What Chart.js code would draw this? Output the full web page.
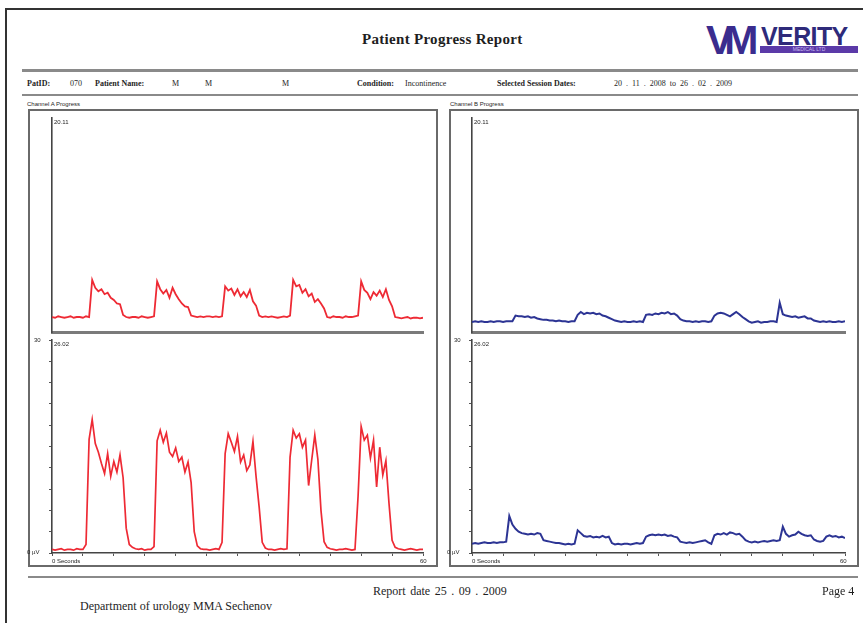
<!DOCTYPE html>
<html><head><meta charset="utf-8">
<script src="https://cdn.jsdelivr.net/npm/chart.js@4.4.0/dist/chart.umd.min.js"></script>
<style>
html,body{margin:0;padding:0;background:#fff;}
body{width:863px;height:623px;position:relative;overflow:hidden;font-family:"Liberation Serif","DejaVu Serif",serif;color:#1e1e1e;}
.a{position:absolute;white-space:nowrap;line-height:1;}
.b{font-weight:bold;}
.rule{position:absolute;background:#8a8a8a;}
.box{position:absolute;border:2px solid #6a6a6a;box-sizing:border-box;}
canvas{position:absolute;}
.sm{font-size:6px;font-family:"Liberation Sans",Arial,sans-serif;}
</style></head><body>
<div style="position:absolute;left:5px;top:8px;width:870px;height:630px;border-left:2px solid #333;border-top:2px solid #333;"></div>

<div class="a b" style="left:362px;top:32px;font-size:15px;letter-spacing:0.3px;">Patient Progress Report</div>

<!-- logo -->
<div class="a" style="left:706px;top:20px;font-family:'Liberation Sans',Arial,sans-serif;font-weight:900;font-size:41px;color:#3a2c8e;letter-spacing:-9px;">VM</div>
<div class="a" style="left:761px;top:24px;font-family:'Liberation Sans',Arial,sans-serif;font-weight:bold;font-size:25px;color:#2e2a7a;letter-spacing:-0.6px;">VERITY</div>
<div class="a" style="left:760px;top:46px;width:98px;height:7px;background:#5b3aa8;color:#c9b8f0;font-size:5px;font-family:'Liberation Sans',Arial,sans-serif;text-align:center;line-height:7px;">MEDICAL LTD</div>

<div class="rule" style="left:22px;top:69px;width:836px;height:3px;"></div>
<div class="a b" style="left:27px;top:80px;font-size:8px;">PatID:</div>
<div class="a" style="left:70px;top:80px;font-size:8px;">070</div>
<div class="a b" style="left:95px;top:80px;font-size:8px;">Patient Name:</div>
<div class="a" style="left:172px;top:80px;font-size:8px;">M</div>
<div class="a" style="left:205px;top:80px;font-size:8px;">M</div>
<div class="a" style="left:282px;top:80px;font-size:8px;">M</div>
<div class="a b" style="left:357px;top:80px;font-size:8px;">Condition:</div>
<div class="a" style="left:405px;top:80px;font-size:8px;">Incontinence</div>
<div class="a b" style="left:497px;top:80px;font-size:8px;">Selected Session Dates:</div>
<div class="a" style="left:614px;top:80px;font-size:8px;word-spacing:2px;color:#1e1e1e;">20 . 11 . 2008 to 26 . 02 . 2009</div>
<div class="rule" style="left:22px;top:94px;width:836px;height:2px;"></div>

<div class="a sm" style="left:27px;top:101px;">Channel A Progress</div>
<div class="a sm" style="left:450px;top:101px;">Channel B Progress</div>
<div class="box" style="left:28px;top:109px;width:410px;height:458px;"></div>
<div class="box" style="left:449px;top:109px;width:410px;height:458px;"></div>

<canvas id="cA1" width="383" height="226" style="left:46px;top:112px;"></canvas>
<canvas id="cA2" width="383" height="225" style="left:46px;top:334px;"></canvas>
<canvas id="cB1" width="385" height="226" style="left:466px;top:112px;"></canvas>
<canvas id="cB2" width="385" height="225" style="left:466px;top:334px;"></canvas>

<div id="labels"></div>

<div class="rule" style="left:28px;top:576px;width:830px;height:2px;"></div>
<div class="a" style="left:373px;top:585px;font-size:12px;word-spacing:1.5px;">Report date 25 . 09 . 2009</div>
<div class="a" style="left:822px;top:585px;font-size:12px;">Page 4</div>
<div class="a" style="left:80px;top:600px;font-size:12px;">Department of urology MMA Sechenov</div>

<script>
// ---- data ----
const seconds = [0,0.5,1,1.5,2,2.5,3,3.5,4,4.5,5,5.5,6,6.5,7,7.5,8,8.5,9,9.5,10,10.5,11,11.5,12,12.5,13,13.5,14,14.5,15,15.5,16,16.5,17,17.5,18,18.5,19,19.5,20,20.5,21,21.5,22,22.5,23,23.5,24,24.5,25,25.5,26,26.5,27,27.5,28,28.5,29,29.5,30,30.5,31,31.5,32,32.5,33,33.5,34,34.5,35,35.5,36,36.5,37,37.5,38,38.5,39,39.5,40,40.5,41,41.5,42,42.5,43,43.5,44,44.5,45,45.5,46,46.5,47,47.5,48,48.5,49,49.5,50,50.5,51,51.5,52,52.5,53,53.5,54,54.5,55,55.5,56,56.5,57,57.5,58,58.5,59,59.5,60];

// Channel A, session 20.11 (µV)
const channelA_2011 = [2.1,2.0,2.2,2.1,2.0,2.1,2.2,2.0,2.1,2.1,2.0,2.2,2.1,7.3,6.2,5.7,6.0,5.3,5.5,4.8,4.5,4.0,3.9,2.4,2.1,2.0,2.1,2.1,2.0,2.2,2.1,2.0,2.1,2.2,7.1,6.0,5.4,5.9,4.8,6.2,5.3,4.6,4.0,3.6,3.5,2.3,2.2,2.1,2.2,2.1,2.2,2.2,2.1,2.2,2.1,2.2,6.4,5.8,6.1,5.2,6.0,5.0,5.6,4.9,5.9,4.3,3.7,2.3,2.1,2.2,2.1,2.2,2.1,2.0,2.1,2.2,2.1,2.3,7.3,6.4,6.6,5.5,6.0,5.0,5.4,4.2,4.6,4.0,3.3,2.1,2.0,2.2,2.1,2.1,2.0,2.2,2.1,2.1,2.2,2.3,7.1,5.9,5.5,4.6,5.6,5.1,5.8,4.9,6.0,4.5,3.6,2.1,2.0,1.9,2.0,2.1,1.9,2.0,2.0,1.9,2.0];

// Channel A, session 26.02 (µV)
const channelA_2602 = [0.5,0.4,0.5,0.6,0.4,0.5,0.5,0.4,0.6,0.5,0.5,1.2,16.0,18.8,15.4,14.2,12.6,11.2,14.0,10.8,12.9,11.4,13.8,10.6,3.5,1.2,0.8,0.6,0.5,0.6,0.4,0.5,0.5,0.9,15.8,17.3,15.6,16.9,14.2,13.6,14.8,12.9,13.5,11.4,12.8,9.9,3.0,1.0,0.6,0.5,0.5,0.4,0.5,0.6,0.5,1.5,14.0,16.8,15.6,14.3,16.4,12.8,13.8,11.6,12.4,15.7,10.8,6.5,1.5,0.7,0.5,0.5,0.4,0.5,0.6,0.5,0.6,13.5,17.3,16.2,16.8,14.9,15.9,9.5,13.1,16.6,13.2,6.0,1.6,0.8,0.6,0.5,0.4,0.5,0.5,0.6,0.5,0.4,0.5,8.0,17.8,15.9,16.6,13.4,15.9,9.3,14.9,11.0,13.0,7.0,1.8,0.8,0.6,0.5,0.4,0.5,0.6,0.5,0.4,0.5,0.5];

// Channel B, session 20.11 (µV)
const channelB_2011 = [1.4,1.5,1.4,1.5,1.4,1.4,1.5,1.4,1.5,1.5,1.4,1.5,1.5,1.5,2.3,2.2,2.2,2.1,2.2,2.0,2.1,1.9,1.8,1.7,1.7,1.6,1.6,1.5,1.6,1.5,1.5,1.4,1.5,1.5,2.4,2.8,2.5,2.7,2.6,2.7,2.5,2.6,2.3,2.2,2.0,1.8,1.6,1.5,1.4,1.5,1.4,1.4,1.5,1.4,1.5,1.4,2.4,2.5,2.4,2.6,2.5,2.7,2.6,2.8,2.5,2.6,2.3,1.8,1.6,1.5,1.5,1.4,1.5,1.4,1.5,1.5,1.4,1.5,2.3,2.6,2.7,2.6,2.4,2.2,2.5,2.8,2.5,2.1,1.8,1.5,1.3,1.4,1.5,1.3,1.4,1.4,1.5,1.5,1.4,4.1,2.5,2.3,2.2,2.1,2.2,2.0,2.1,2.2,1.9,1.9,1.6,1.5,1.4,1.5,1.4,1.5,1.4,1.4,1.5,1.4,1.5];

// Channel B, session 26.02 (µV)
const channelB_2602 = [1.3,1.4,1.3,1.4,1.5,1.4,1.4,1.5,1.4,1.5,1.5,1.6,5.2,4.0,3.4,3.0,2.8,2.7,2.6,2.7,2.6,2.8,2.7,1.8,1.7,1.6,1.5,1.4,1.4,1.3,1.2,1.3,1.2,1.3,3.2,2.8,2.4,2.3,2.4,2.2,2.3,2.2,2.4,2.2,2.3,1.4,1.2,1.3,1.2,1.3,1.3,1.2,1.3,1.4,1.3,1.4,2.3,2.5,2.6,2.5,2.6,2.5,2.6,2.4,2.5,2.3,2.2,1.6,1.5,1.4,1.5,1.4,1.5,1.6,1.7,1.8,1.5,1.3,2.5,2.7,2.6,2.8,2.6,2.9,2.8,2.6,2.7,2.3,1.8,1.6,1.5,1.6,1.5,1.6,1.7,1.6,1.7,1.8,1.7,1.8,3.7,2.7,2.3,2.5,2.6,3.0,2.7,2.5,2.4,2.5,1.9,1.7,1.6,1.7,2.3,2.5,2.3,2.4,2.2,2.3,2.1];

const sessionLabels = ['20.11','26.02'];
const yTickLabels = ['0 µV','30'];
const xTickLabels = ['0 Seconds','60'];
const yRange = [0, 30];
const xRange = [0, 60];

// ---- charts ----
const RED = '#ee2a34';
const BLUE = '#2c3494';
const P = 6;

function makeChart(id, values, color, lower, width) {
  const pts = seconds.map((s, i) => ({x: s, y: values[i]}));
  return new Chart(document.getElementById(id), {
    type: 'line',
    data: { datasets: [{ data: pts, borderColor: color, borderWidth: width, pointRadius: 0, tension: 0, fill: false }] },
    options: {
      responsive: false, animation: false, events: [],
      layout: { padding: P },
      plugins: { legend: { display: false }, tooltip: { enabled: false } },
      scales: {
        x: {
          type: 'linear', min: xRange[0], max: xRange[1],
          ticks: { display: false, stepSize: 5 },
          grid: { display: lower, drawOnChartArea: false, drawTicks: lower, tickLength: 3, color: '#555', lineWidth: 1 },
          border: { display: true, color: lower ? '#444' : '#7a7a7a', width: lower ? 1.6 : 3 },
          afterFit: s => { s.height = 0; }
        },
        y: {
          min: yRange[0], max: yRange[1],
          ticks: { display: false, stepSize: 3 },
          grid: { display: lower, drawOnChartArea: false, drawTicks: lower, tickLength: 3, color: '#555', lineWidth: 1 },
          border: { display: true, color: '#444', width: 1.6 },
          afterFit: s => { s.width = 0; }
        }
      }
    }
  });
}

makeChart('cA1', channelA_2011, RED, false, 1.8);
makeChart('cA2', channelA_2602, RED, true, 1.7);
makeChart('cB1', channelB_2011, BLUE, false, 2);
makeChart('cB2', channelB_2602, BLUE, true, 2);

// ---- axis text ----
const lab = document.getElementById('labels');
function addText(t, x, y) {
  const d = document.createElement('div');
  d.className = 'a sm';
  d.textContent = t;
  d.style.left = x + 'px'; d.style.top = y + 'px';
  lab.appendChild(d);
}
[52, 472].forEach(x0 => {
  addText(sessionLabels[0], x0 + 2, 119);
  addText(sessionLabels[1], x0 + 2, 341);
  addText(yTickLabels[1], x0 - 18, 337);
  addText(yTickLabels[0], x0 - 25, 549);
  addText(xTickLabels[0], x0, 558);
  addText(xTickLabels[1], x0 + 368, 558);
});
</script>
</body></html>
